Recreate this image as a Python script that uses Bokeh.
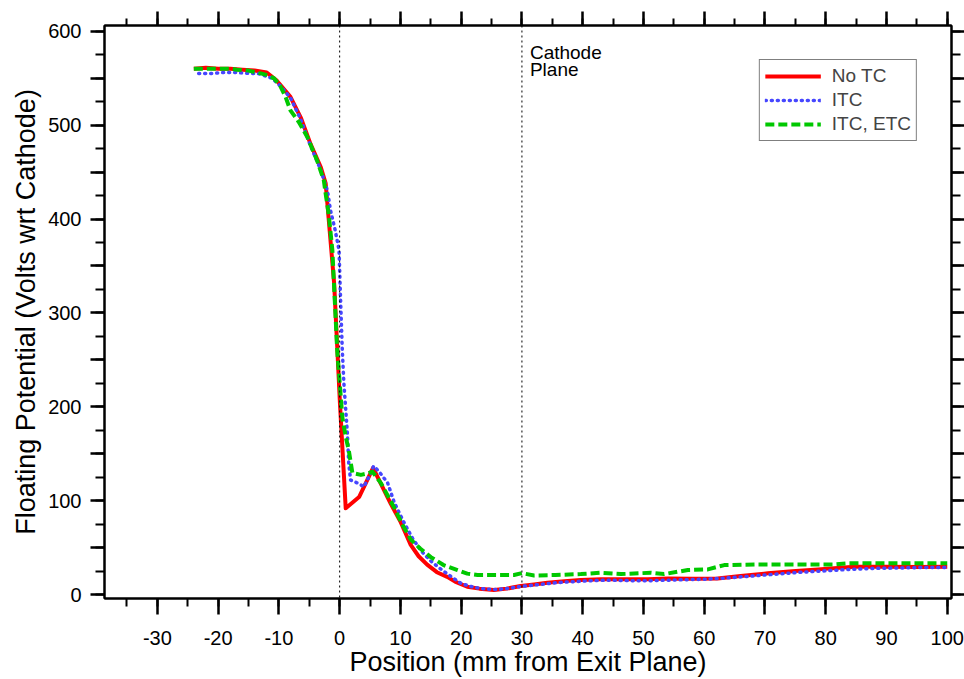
from bokeh.plotting import figure
from bokeh.models import (Range1d, LinearAxis, FixedTicker, Span, Label,
                          Legend, LegendItem, CustomJSTickFormatter)
from bokeh.embed import file_html
from bokeh.resources import INLINE

# ---------------- data ----------------
x_notc = [-24, -22, -20, -18, -16, -14, -12, -10.3, -8.1, -6.4, -4.8, -3.1, -2.3, -0.9, 0.05,
          1.0, 3.2, 5.5, 8.4, 10.0, 11.7, 13.0, 14.4, 16.0, 17.7, 19.0, 21.0, 23.0, 25.4, 27.5,
          29.8, 32.0, 34.2, 37.0, 39.7, 43.0, 46.0, 50.7, 54.0, 58.0, 62.2, 66.0, 70.5, 74.5,
          78.7, 84.7, 90.0, 95.0, 100.0]
y_notc = [560, 561, 560, 560, 559, 558, 556, 547, 530, 508, 480, 455, 438, 331, 204,
          92, 104, 135, 97, 78, 53, 41, 32, 24, 19, 14, 8.5, 6.5, 5, 6.5,
          9.3, 11, 12.8, 14.5, 15.6, 16.4, 16.5, 16.4, 17.4, 17, 17.4, 20, 22.8, 25,
          27, 29.8, 29.8, 29.5, 29.8]

x_itc = [-23.2, -21, -19, -17, -15, -13.5, -12.5, -11.1, -9.5, -8, -6.4, -4.8, -3.1, -2.0, -1.5,
         -0.8, -0.1, 0.16, 0.44, 0.7, 1.27, 1.5, 1.8, 2.9, 4.0, 5.0, 5.6, 6.5, 7.9, 9.0,
         10.5, 12.0, 13.5, 15.0, 16.5, 18.3, 20.0, 22.0, 24.0, 26.0, 28.0, 30.0, 33.0, 36.0, 40.0,
         44.0, 48.4, 51.2, 54.0, 57.0, 60.0, 64.0, 68.0, 72.0, 76.0, 80.0, 84.0, 88.0, 92.0, 96.0,
         100.0]
y_itc = [555, 555, 556, 556, 555, 555, 553, 549.7, 540, 528, 506, 478, 452, 430, 409,
         390, 367, 313, 260, 225, 172, 140, 122, 119, 115, 128, 137, 131, 119, 98,
         78, 60, 46, 36, 28, 19.5, 12, 8, 6, 5.5, 7, 9, 11, 13, 14.5,
         15.5, 14.9, 15, 15.5, 16, 16.5, 18, 20, 22, 24, 25.5, 27, 28, 28.5, 29,
         29]

x_etc = [-24, -22, -20, -18, -16.9, -15, -13, -11.8, -10.8, -9.8, -8.9, -8.1, -6.7, -5.3, -3.7,
         -2.6, -2.3, -1.8, -1.2, -0.4, 0.44, 1.0, 1.5, 2.1, 3.5, 4.5, 5.4, 6.8, 8.9, 10.3,
         11.7, 13.3, 15.0, 17.1, 19.4, 21.0, 22.7, 25.0, 28.7, 30.0, 32.0, 35.5, 39.7, 43.0, 46.3,
         51.2, 53.4, 57.3, 60.6, 63.3, 68.8, 75.0, 81.4, 83.6, 90.0, 95.0, 100.0]
y_etc = [560, 560, 560, 560, 559, 558, 555, 553, 549.7, 542, 530, 515.6, 503, 487, 462,
         441, 427, 405, 367, 260, 189, 168, 154, 129.5, 127.6, 129, 131, 118.8, 93.7, 75,
         58.8, 49, 40.1, 31.6, 26.3, 22.5, 21, 21, 21, 23, 20.5, 21, 22, 23.4, 22,
         23.4, 22, 26.3, 27, 31.6, 32.3, 32.3, 32.3, 33.4, 33.4, 33.4, 33.4]

series_labels = ["No TC", "ITC", "ITC, ETC"]
marker_positions = [0, 30]
marker_text = ["Cathode", "Plane"]

x_major = list(range(-30, 101, 10))
x_minor = list(range(-35, 101, 5))
x_labels = {v: str(v) for v in x_major}          # hyphen minus, as in the original
y_major = list(range(0, 601, 50))
y_minor = list(range(0, 601, 25))
y_labels = {v: (str(v) if v % 100 == 0 else "") for v in y_major}

FONT = "Liberation Sans"

p = figure(width=964, height=679, x_range=Range1d(-38.7, 100.7), y_range=Range1d(-4, 606),
           output_backend="svg", toolbar_location=None, title=None,
           x_axis_location=None, y_axis_location=None,
           min_border_left=104, min_border_right=13, min_border_top=25, min_border_bottom=81)
p.grid.visible = False
p.outline_line_color = "black"
p.outline_line_width = 2
p.background_fill_color = "white"
p.border_fill_color = "white"


def style_axis(ax, tick_out, minor_out):
    ax.axis_line_color = "black"
    ax.axis_line_width = 2
    ax.major_tick_in = 0
    ax.minor_tick_in = 0
    ax.major_tick_out = tick_out
    ax.minor_tick_out = minor_out
    ax.major_tick_line_width = 2.5
    ax.minor_tick_line_width = 2
    ax.major_tick_line_color = "black"
    ax.minor_tick_line_color = "black"
    ax.major_label_text_font = FONT
    ax.major_label_text_color = "black"
    ax.axis_label_text_font = FONT
    ax.axis_label_text_font_style = "normal"
    ax.axis_label_text_color = "black"


xb = LinearAxis(ticker=FixedTicker(ticks=x_major, minor_ticks=x_minor),
                axis_label="Position (mm from Exit Plane)")
style_axis(xb, 16, 8)
xb.major_label_overrides = x_labels
xb.major_label_text_font_size = "20px"
xb.major_label_standoff = 16
xb.axis_label_text_font_size = "27px"
xb.axis_label_standoff = -1
p.add_layout(xb, "below")

yl = LinearAxis(ticker=FixedTicker(ticks=y_major, minor_ticks=y_minor),
                axis_label="Floating Potential (Volts wrt Cathode)")
style_axis(yl, 14, 9)
yl.major_label_overrides = y_labels
yl.major_label_text_font_size = "20px"
yl.major_label_standoff = 9
yl.axis_label_text_font_size = "27px"
yl.axis_label_standoff = 4
p.add_layout(yl, "left")

xt = LinearAxis(ticker=FixedTicker(ticks=x_major, minor_ticks=x_minor),
                formatter=CustomJSTickFormatter(code="return ''"))
style_axis(xt, 14, 7)
xt.major_label_text_font_size = "0px"
xt.major_label_standoff = 0
p.add_layout(xt, "above")

yr = LinearAxis(ticker=FixedTicker(ticks=y_major, minor_ticks=y_minor),
                formatter=CustomJSTickFormatter(code="return ''"))
style_axis(yr, 13, 9)
yr.major_label_text_font_size = "0px"
yr.major_label_standoff = 0
p.add_layout(yr, "right")

for pos in marker_positions:
    p.add_layout(Span(location=pos, dimension="height", line_color="black",
                      line_width=1, line_dash="2 3"))

p.add_layout(Label(x=marker_positions[1], y=577, x_offset=8, text=marker_text[0],
                   text_font=FONT, text_font_size="19px", text_color="black",
                   text_baseline="alphabetic"))
p.add_layout(Label(x=marker_positions[1], y=559, x_offset=8, text=marker_text[1],
                   text_font=FONT, text_font_size="19px", text_color="black",
                   text_baseline="alphabetic"))

r1 = p.line(x_notc, y_notc, line_color="#ff0000", line_width=4, line_join="round")
r2 = p.line(x_itc, y_itc, line_color="#4646ff", line_width=3.5, line_dash="1 5",
            line_cap="round", line_join="round")
r3 = p.line(x_etc, y_etc, line_color="#00c800", line_width=4, line_dash="9 4",
            line_join="round")

legend = Legend(items=[LegendItem(label=series_labels[0], renderers=[r1]),
                       LegendItem(label=series_labels[1], renderers=[r2]),
                       LegendItem(label=series_labels[2], renderers=[r3])],
                location="top_right", margin=34, padding=5, spacing=2,
                glyph_width=56, glyph_height=20, label_height=20, label_standoff=11,
                label_text_font=FONT, label_text_font_size="19px",
                border_line_color="black", border_line_width=1,
                background_fill_color="white", background_fill_alpha=1)
p.add_layout(legend)

open("out.html", "w").write(file_html(p, INLINE))
